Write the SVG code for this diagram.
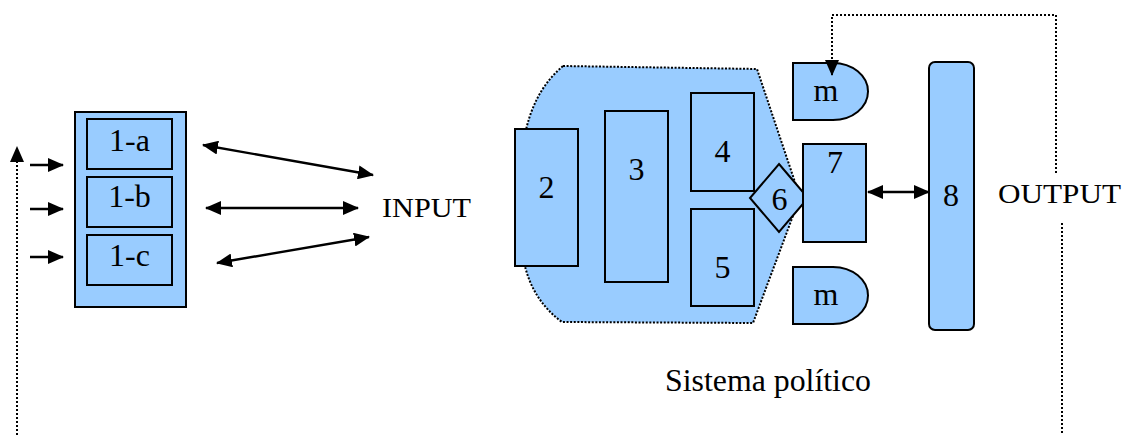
<svg xmlns="http://www.w3.org/2000/svg" width="1123" height="435" viewBox="0 0 1123 435">
  <style>
    .box { fill: #99CCFF; stroke: #000; stroke-width: 2; }
    .lbl { font-family: "Liberation Serif", "Times New Roman", serif; font-size: 32px; fill: #000; text-anchor: middle; }
    .word { font-family: "Liberation Serif", "Times New Roman", serif; fill: #000; }
    .arrow { stroke: #000; stroke-width: 2.4; fill: none; }
    .dots { stroke: #000; fill: none; stroke-width: 2; stroke-dasharray: 2 2; }
    .area { fill: #99CCFF; stroke: #000; stroke-width: 2; stroke-dasharray: 2 1.6; }
  </style>
  <defs>
    <marker id="head" markerUnits="userSpaceOnUse" markerWidth="16" markerHeight="14" viewBox="0 0 16 14" refX="15" refY="7" orient="auto-start-reverse">
      <path d="M0,0 L16,7 L0,14 Z" fill="#000"/>
    </marker>
  </defs>

  <!-- political system envelope -->
  <path id="system-area" class="area" d="M563,66 L757,69 L800,197 L753,323 L562,322 Q532,300 524,262 L524,140 Q532,92 563,66 Z"/>

  <!-- input column -->
  <g id="node-1">
    <rect class="box" x="75" y="112" width="111" height="195"/>
  </g>
  <g id="node-1a">
    <rect class="box" x="87" y="119" width="85" height="50"/>
    <text class="lbl" x="129.5" y="151">1-a</text>
  </g>
  <g id="node-1b">
    <rect class="box" x="87" y="177" width="85" height="50"/>
    <text class="lbl" x="129.5" y="207">1-b</text>
  </g>
  <g id="node-1c">
    <rect class="box" x="87" y="235" width="85" height="50"/>
    <text class="lbl" x="129.5" y="266">1-c</text>
  </g>

  <!-- inner units -->
  <g id="node-2">
    <rect class="box" x="515" y="129" width="63" height="137"/>
    <text class="lbl" x="546.5" y="198">2</text>
  </g>
  <g id="node-3">
    <rect class="box" x="605" y="111" width="63" height="171"/>
    <text class="lbl" x="636.5" y="180">3</text>
  </g>
  <g id="node-4">
    <rect class="box" x="691" y="93" width="63" height="98"/>
    <text class="lbl" x="722.5" y="162">4</text>
  </g>
  <g id="node-5">
    <rect class="box" x="691" y="209" width="63" height="97"/>
    <text class="lbl" x="722.5" y="278">5</text>
  </g>
  <g id="node-6">
    <path class="box" d="M779,164 L808,198 L779,232 L750,198 Z"/>
    <text class="lbl" x="779.5" y="210">6</text>
  </g>
  <g id="node-7">
    <rect class="box" x="803" y="144" width="63" height="98"/>
    <text class="lbl" x="835" y="173">7</text>
  </g>
  <g id="node-m-top">
    <path class="box" d="M793,63 H833 A35,28.5 0 0 1 833,120 H793 Z"/>
    <text class="lbl" x="826" y="101">m</text>
  </g>
  <g id="node-m-bottom">
    <path class="box" d="M793,267 H833 A35,28.5 0 0 1 833,324 H793 Z"/>
    <text class="lbl" x="826" y="305">m</text>
  </g>
  <g id="node-8">
    <rect class="box" x="929" y="62" width="45" height="268" rx="6"/>
    <text class="lbl" x="951" y="206">8</text>
  </g>

  <!-- labels -->
  <text class="word" x="382" y="217" font-size="28" textLength="89" lengthAdjust="spacingAndGlyphs">INPUT</text>
  <text class="word" x="998" y="203" font-size="28" textLength="123" lengthAdjust="spacingAndGlyphs">OUTPUT</text>
  <text class="word" x="665" y="391" font-size="31" textLength="206" lengthAdjust="spacingAndGlyphs">Sistema político</text>

  <!-- connectors -->
  <g id="connectors">
    <line class="arrow" x1="30" y1="165" x2="63" y2="165" marker-end="url(#head)"/>
    <line class="arrow" x1="30" y1="209" x2="63" y2="209" marker-end="url(#head)"/>
    <line class="arrow" x1="30" y1="257" x2="63" y2="257" marker-end="url(#head)"/>

    <line class="arrow" x1="203" y1="145" x2="373" y2="175" marker-start="url(#head)" marker-end="url(#head)"/>
    <line class="arrow" x1="206" y1="208" x2="358" y2="208" marker-start="url(#head)" marker-end="url(#head)"/>
    <line class="arrow" x1="217" y1="263" x2="369" y2="237" marker-start="url(#head)" marker-end="url(#head)"/>

    <line class="arrow" x1="868" y1="192" x2="929" y2="192" marker-start="url(#head)" marker-end="url(#head)"/>

    <!-- feedback loops -->
    <path class="dots" d="M1056,173 V15 H832 V75" marker-end="url(#head)"/>
    <line class="dots" x1="1062" y1="223" x2="1062" y2="435"/>
    <line class="dots" x1="17" y1="435" x2="17" y2="147" stroke-width="3" stroke-dasharray="3 2" marker-end="url(#head)"/>
  </g>
</svg>
